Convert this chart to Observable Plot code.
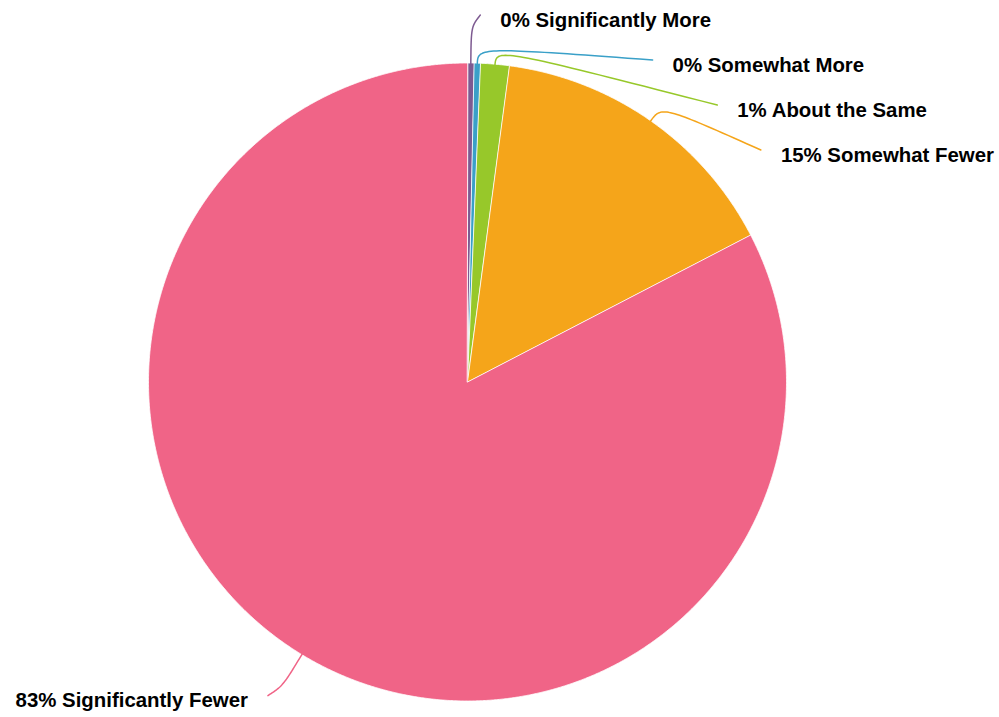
<!DOCTYPE html>
<html><head><meta charset="utf-8">
<script src="https://cdn.jsdelivr.net/npm/d3@7"></script>
<script src="https://cdn.jsdelivr.net/npm/@observablehq/plot@0.6"></script>
<style>html,body{margin:0;padding:0;background:#fff;} #chart svg{display:block;overflow:visible}</style>
</head><body><div id="chart"></div>
<script>
// ---- data ----
const categories = ["Significantly More", "Somewhat More", "About the Same", "Somewhat Fewer", "Significantly Fewer"];
const values = [0.33, 0.32, 1.45, 15.28, 82.62];
const colors = ["#7D5A91", "#3AA0C8", "#97C82A", "#F5A51A", "#F06487"];

// ---- layout ----
const W = 999, H = 717;
const cx = 467, cy = 381.5, R = 319;
const rLabel = 367, labelShift = 9, labelGap = 45, textPad = 20;
const bendMin = 16, bendExtra = 21;

const arcs = d3.pie().sort(null).value(d => d)(values);
const polar = (a, r) => [cx + r * Math.sin(a), cy - r * Math.cos(a)];

const slicePts = [];
arcs.forEach((a, i) => {
  const cat = categories[i];
  slicePts.push({cat, x: cx, y: cy});
  const n = Math.max(2, Math.ceil((a.endAngle - a.startAngle) / (Math.PI / 720)));
  for (let k = 0; k <= n; k++) {
    const t = a.startAngle + (a.endAngle - a.startAngle) * k / n;
    const [x, y] = polar(t, R);
    slicePts.push({cat, x, y});
  }
});

const labels = arcs.map((a, i) => {
  const m = (a.startAngle + a.endAngle) / 2;
  const side = Math.sin(m) >= 0 ? 1 : -1;
  const [, y] = polar(m, rLabel);
  return {cat: categories[i], m, side, y, text: `${Math.round(values[i])}% ${categories[i]}`};
});
for (const side of [1, -1]) {
  const grp = labels.filter(l => l.side === side).sort((a, b) => a.y - b.y);
  for (let k = 1; k < grp.length; k++) grp[k].y = Math.max(grp[k].y, grp[k - 1].y + labelGap);
}
labels.forEach(l => {
  const dy = l.y - cy;
  l.x = cx + l.side * (Math.sqrt(Math.max(0, rLabel * rLabel - dy * dy)) + labelShift);
});

// leader: cubic curve from slice edge, bending out radially, to the label anchor
const leaderPts = [];
labels.forEach(l => {
  const [x0, y0] = polar(l.m, R - 1);
  const ux = Math.sin(l.m), uy = -Math.cos(l.m);
  const dx = l.x - x0, dy = l.y - y0, len = Math.hypot(dx, dy);
  const cos = (dx * ux + dy * uy) / len;
  const e = bendMin + bendExtra * Math.max(0, cos) * Math.max(0, cos);
  const [cxp, cyp] = polar(l.m, R + e);
  const N = 40;
  for (let k = 0; k <= N; k++) {
    const t = k / N, s = 1 - t;
    const x = s * s * s * x0 + 3 * s * t * cxp + t * t * t * l.x;
    const y = s * s * s * y0 + 3 * s * t * cyp + t * t * t * l.y;
    leaderPts.push({cat: l.cat, x, y});
  }
});

const font = "'Liberation Sans', Arial, Helvetica, sans-serif";

const chart = Plot.plot({
  width: W, height: H, margin: 0,
  style: {background: "#fff", fontFamily: font},
  x: {domain: [0, W], range: [0, W], axis: null},
  y: {domain: [0, H], range: [0, H], axis: null},
  color: {domain: categories, range: colors},
  marks: [
    Plot.line(slicePts, {x: "x", y: "y", z: "cat", fill: "cat", stroke: "#fff", strokeWidth: 0.8, curve: "linear-closed"}),
    Plot.line(leaderPts, {x: "x", y: "y", z: "cat", stroke: "cat", strokeWidth: 1.5}),
    Plot.text(labels.filter(l => l.side > 0), {x: d => d.x + textPad, y: d => d.y + 5, text: "text", textAnchor: "start", fontSize: 20.4, fontWeight: "bold", fill: "#000", fontFamily: font}),
    Plot.text(labels.filter(l => l.side < 0), {x: d => d.x - textPad, y: d => d.y + 5, text: "text", textAnchor: "end", fontSize: 20.4, fontWeight: "bold", fill: "#000", fontFamily: font})
  ]
});
document.getElementById("chart").appendChild(chart);
</script>
</body></html>
